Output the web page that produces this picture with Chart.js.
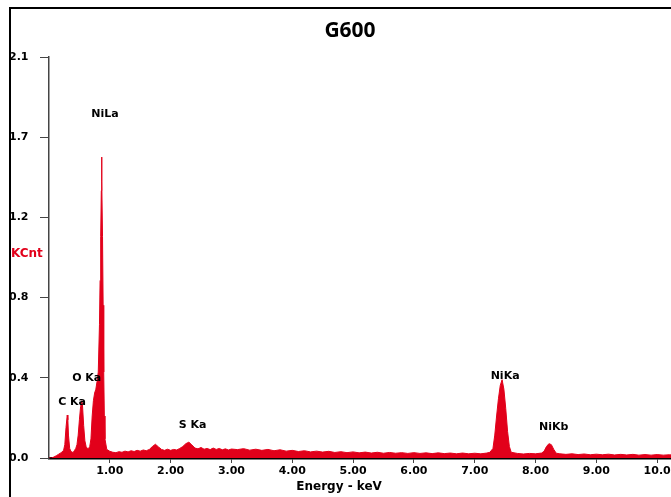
<!DOCTYPE html>
<html lang="en">
<head>
  <meta charset="UTF-8" />
  <title>G600 EDS spectrum</title>
  <script src="https://cdn.jsdelivr.net/npm/chart.js"></script>
  <style>
    html, body {
      margin: 0;
      padding: 0;
      width: 671px;
      height: 497px;
      overflow: hidden;
      background: #fff;
    }
    .wrap {
      position: relative;
      width: 690px;
      height: 497px;
    }
    .frame {
      position: absolute;
      left: 9px;
      top: 7px;
      width: 700px;
      height: 500px;
      border-top: 2px solid #000;
      border-left: 2px solid #000;
      pointer-events: none;
    }
  </style>
</head>
<body>
  <div class="wrap">
    <canvas id="spectrum" width="690" height="497"></canvas>
    <div class="frame"></div>
  </div>

  <script>
    // energy (keV) and counts (KCnt)
    const energy = [
      0.00, 0.04, 0.08, 0.12, 0.16, 0.20, 0.24, 0.26, 0.28, 0.30, 0.31, 0.32, 0.34, 0.36, 0.38,
      0.40, 0.42, 0.44, 0.46, 0.48, 0.50, 0.52, 0.54, 0.55, 0.57, 0.59, 0.61, 0.63, 0.65, 0.67,
      0.69, 0.71, 0.73, 0.75, 0.77, 0.79, 0.81, 0.83, 0.84, 0.85, 0.86, 0.865, 0.87, 0.88, 0.89,
      0.90, 0.91, 0.92, 0.95, 1.00, 1.05, 1.10, 1.15, 1.20, 1.25, 1.30, 1.35, 1.40, 1.45, 1.50,
      1.55, 1.60, 1.65, 1.70, 1.75, 1.80, 1.85, 1.90, 1.95, 2.00, 2.05, 2.10, 2.15, 2.20, 2.25,
      2.30, 2.35, 2.40, 2.45, 2.50, 2.55, 2.60, 2.65, 2.70, 2.75, 2.80, 2.85, 2.90, 2.95, 3.00,
      3.1, 3.2, 3.3, 3.4, 3.5, 3.6, 3.7, 3.8, 3.9, 4.0, 4.1, 4.2, 4.3, 4.4, 4.5,
      4.6, 4.7, 4.8, 4.9, 5.0, 5.1, 5.2, 5.3, 5.4, 5.5, 5.6, 5.7, 5.8, 5.9, 6.0,
      6.1, 6.2, 6.3, 6.4, 6.5, 6.6, 6.7, 6.8, 6.9, 7.0, 7.1, 7.2, 7.25, 7.30, 7.33,
      7.36, 7.39, 7.42, 7.45, 7.48, 7.51, 7.54, 7.57, 7.60, 7.7, 7.8, 7.9, 8.0, 8.1, 8.14,
      8.18, 8.22, 8.26, 8.30, 8.34, 8.4, 8.5, 8.6, 8.7, 8.8, 8.9, 9.0, 9.1, 9.2, 9.3,
      9.4, 9.5, 9.6, 9.7, 9.8, 9.9, 10.0, 10.1, 10.2, 10.3, 10.4, 10.5, 10.6
    ];
    const kcnt = [
      0.000, 0.000, 0.005, 0.012, 0.020, 0.028, 0.040, 0.070, 0.160, 0.225, 0.200, 0.120, 0.050, 0.035, 0.030,
      0.030, 0.040, 0.050, 0.070, 0.120, 0.200, 0.270, 0.300, 0.280, 0.170, 0.090, 0.060, 0.050, 0.050, 0.060,
      0.100, 0.220, 0.300, 0.340, 0.360, 0.400, 0.450, 0.700, 0.930, 1.160, 1.400, 1.576, 1.450, 1.160, 0.800,
      0.450, 0.220, 0.100, 0.045, 0.035, 0.030, 0.028, 0.033, 0.030, 0.036, 0.032, 0.038, 0.034, 0.040, 0.036,
      0.042, 0.038, 0.045, 0.060, 0.072, 0.058, 0.045, 0.040, 0.046, 0.040, 0.045, 0.042, 0.050, 0.060, 0.075,
      0.083, 0.068, 0.052, 0.048, 0.055, 0.046, 0.050, 0.044, 0.052, 0.045, 0.050, 0.043, 0.048, 0.042, 0.047,
      0.044, 0.049, 0.041, 0.046, 0.040, 0.045, 0.038, 0.043, 0.036, 0.040, 0.034, 0.038, 0.032, 0.036, 0.031,
      0.035, 0.029, 0.033, 0.028, 0.032, 0.027, 0.031, 0.026, 0.030, 0.025, 0.029, 0.025, 0.028, 0.024, 0.028,
      0.024, 0.027, 0.023, 0.027, 0.023, 0.026, 0.022, 0.026, 0.022, 0.025, 0.022, 0.026, 0.030, 0.050, 0.120,
      0.220, 0.310, 0.380, 0.410, 0.360, 0.260, 0.140, 0.060, 0.030, 0.024, 0.021, 0.024, 0.022, 0.026, 0.035,
      0.060, 0.075, 0.070, 0.045, 0.025, 0.022, 0.019, 0.022, 0.018, 0.021, 0.017, 0.020, 0.017, 0.020, 0.016,
      0.019, 0.016, 0.019, 0.015, 0.018, 0.015, 0.018, 0.015, 0.017, 0.014, 0.016, 0.014, 0.015
    ];

    const xTicks = [1, 2, 3, 4, 5, 6, 7, 8, 9, 10];
    const xTickLabels = ["1.00", "2.00", "3.00", "4.00", "5.00", "6.00", "7.00", "8.00", "9.00", "10.0"];
    const yTicks = [0, 0.42, 0.84, 1.26, 1.68, 2.1];
    const yTickLabels = ["0.0", "0.4", "0.8", "1.2", "1.7", "2.1"];

    // peak labels: text, energy, KCnt at label centre
    const peakNames = ["NiLa", "O Ka", "C Ka", "S Ka", "NiKa", "NiKb"];
    const peakEnergy = [0.92, 0.62, 0.38, 2.36, 7.50, 8.30];
    const peakLevel = [1.80, 0.42, 0.295, 0.17, 0.43, 0.16];

    const red = "#e2001a";
    const boldFont = "bold 11px 'DejaVu Sans', Verdana, sans-serif";

    const textPlugin = {
      id: "textPlugin",
      afterDraw(chart) {
        const c = chart.ctx;
        const xs = chart.scales.x;
        const ys = chart.scales.y;
        c.save();
        c.textAlign = "center";
        c.textBaseline = "middle";

        c.fillStyle = "#000";
        c.font = "bold 21px 'Open Sans', sans-serif";
        c.fillText("G600", 350, 31);

        c.font = boldFont;
        peakNames.forEach((name, i) => {
          c.fillText(name, xs.getPixelForValue(peakEnergy[i]), ys.getPixelForValue(peakLevel[i]));
        });

        c.font = "bold 12px 'DejaVu Sans', Verdana, sans-serif";
        c.fillText("Energy - keV", xs.getPixelForValue(4.77), 487);

        c.textAlign = "left";
        c.fillStyle = red;
        c.fillText("KCnt", 11, ys.getPixelForValue(1.07));
        c.restore();
      },
    };

    const ctx = document.getElementById("spectrum").getContext("2d");
    new Chart(ctx, {
      type: "line",
      data: {
        datasets: [
          {
            data: energy.map((e, i) => ({ x: e, y: kcnt[i] })),
            borderColor: red,
            backgroundColor: red,
            borderWidth: 1,
            fill: "origin",
            pointRadius: 0,
            tension: 0,
          },
        ],
      },
      options: {
        responsive: false,
        animation: false,
        layout: { padding: { left: 9, top: 57, right: 0, bottom: 0 } },
        plugins: {
          legend: { display: false },
          tooltip: { enabled: false },
          title: { display: false },
        },
        scales: {
          x: {
            type: "linear",
            min: 0,
            max: 10.54,
            z: 1,
            afterBuildTicks: (s) => { s.ticks = xTicks.map((v) => ({ value: v })); },
            afterFit: (s) => { s.height = 39; },
            ticks: {
              color: "#000",
              font: { family: "'DejaVu Sans', Verdana, sans-serif", size: 11, weight: "bold" },
              padding: 2,
              maxRotation: 0,
              autoSkip: false,
              callback: (v, i) => xTickLabels[i],
            },
            grid: { drawOnChartArea: false, drawTicks: true, tickLength: 5, color: "#444" },
            border: { display: true, color: "#000", width: 2.5 },
          },
          y: {
            type: "linear",
            min: 0,
            max: 2.1,
            z: 1,
            afterBuildTicks: (s) => { s.ticks = yTicks.map((v) => ({ value: v })); },
            afterFit: (s) => { s.width = 40; },
            ticks: {
              color: "#000",
              crossAlign: "far",
              font: { family: "'DejaVu Sans', Verdana, sans-serif", size: 11, weight: "bold" },
              padding: 4,
              callback: (v, i) => yTickLabels[i],
            },
            grid: { drawOnChartArea: false, drawTicks: true, tickLength: 9, color: "#444" },
            border: { display: true, color: "#444", width: 1.5 },
          },
        },
      },
      plugins: [textPlugin],
    });
  </script>
</body>
</html>
